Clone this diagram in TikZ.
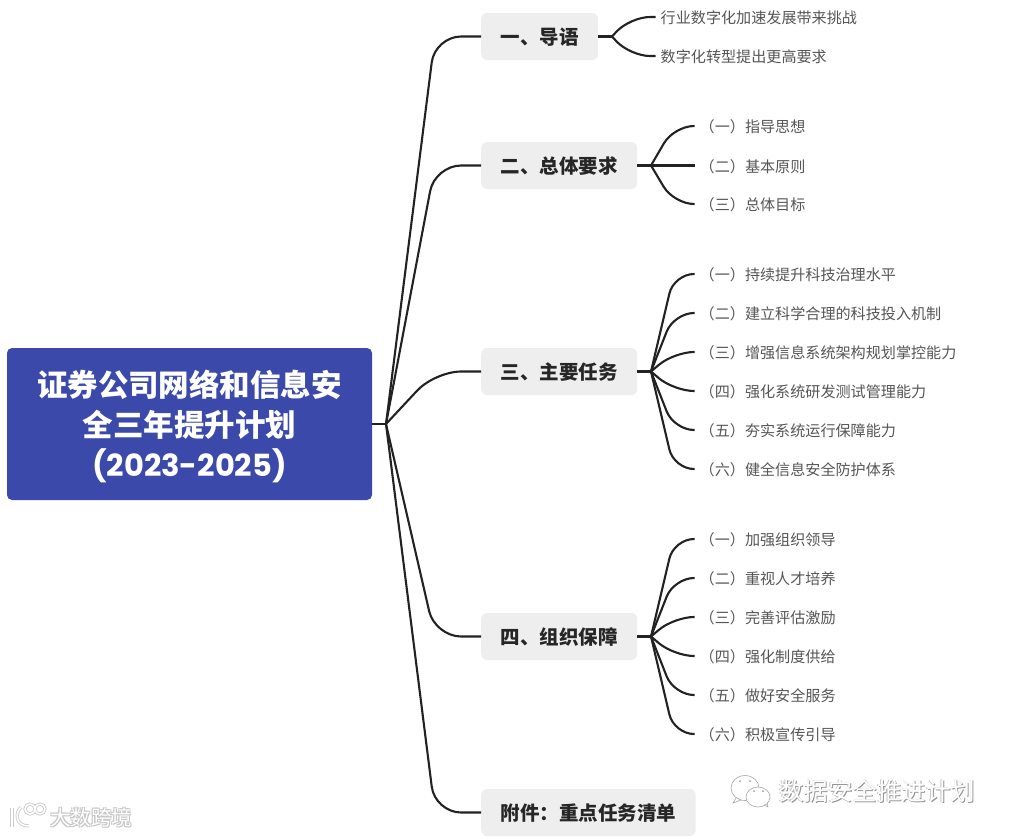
\documentclass[tikz,border=0pt]{standalone}
\usepackage{fontspec}
\usepackage{xcolor}
\setmainfont{Noto Sans CJK SC}
\newfontfamily\rootnum{Poppins}
\definecolor{rootblue}{RGB}{59,74,170}
\definecolor{topgray}{RGB}{238,238,238}
\definecolor{leafgray}{RGB}{85,85,85}
\definecolor{linkdark}{RGB}{34,34,34}
\usetikzlibrary{positioning,arrows.meta}

\begin{document}
\begin{tikzpicture}[x=1pt,y=-1pt,
  rootbox/.style={fill=rootblue,rounded corners=5pt,minimum width=365pt,minimum height=152pt,inner sep=0pt,align=center,text=white,font=\fontsize{30.5}{40}\selectfont\bfseries},
  topbox/.style={fill=topgray,rounded corners=6pt,anchor=west,minimum height=47pt,inner xsep=19.5pt,inner ysep=0pt,text height=19pt,text depth=3pt,text=black!85,font=\fontsize{19.5}{23}\selectfont\bfseries},
  leaf/.style={anchor=west,inner xsep=5pt,inner ysep=0pt,text height=15pt,text depth=2pt,text=leafgray,font=\fontsize{15.1}{18}\selectfont},
  link/.style={draw=linkdark,line width=2.1pt,rounded corners=26pt},
  sublink/.style={draw=linkdark,line width=2.1pt,rounded corners=20pt},
  wm/.style={inner sep=0pt,anchor=west}]
\useasboundingbox (0,0) rectangle (1010,836);
\node[rootbox] (root) at (189.5,424) {\rule{0pt}{32pt}证券公司网络和信息安\\全三年提升计划\\{\rootnum\fontsize{30.5}{40}\selectfont (2023-2025)}};
\node[topbox] (intro) at (481,36.5) {一、导语};
\node[topbox] (req) at (481,165.5) {二、总体要求};
\node[topbox] (task) at (481,371.5) {三、主要任务};
\node[topbox] (guard) at (481,636.5) {四、组织保障};
\node[topbox] (annex) at (481,812.5) {附件：重点任务清单};
% leaves
\node[leaf] (intro1) at (655.5,17) {行业数字化加速发展带来挑战};
\node[leaf] (intro2) at (655.5,56) {数字化转型提出更高要求};
\node[leaf] (req1) at (694.5,126) {（一）指导思想};
\node[leaf] (req2) at (694.5,165.5) {（二）基本原则};
\node[leaf] (req3) at (694.5,204) {（三）总体目标};
\node[leaf] (task1) at (694.5,274) {（一）持续提升科技治理水平};
\node[leaf] (task2) at (694.5,313) {（二）建立科学合理的科技投入机制};
\node[leaf] (task3) at (694.5,352) {（三）增强信息系统架构规划掌控能力};
\node[leaf] (task4) at (694.5,391) {（四）强化系统研发测试管理能力};
\node[leaf] (task5) at (694.5,430) {（五）夯实系统运行保障能力};
\node[leaf] (task6) at (694.5,469) {（六）健全信息安全防护体系};
\node[leaf] (guard1) at (694.5,539) {（一）加强组织领导};
\node[leaf] (guard2) at (694.5,578) {（二）重视人才培养};
\node[leaf] (guard3) at (694.5,617) {（三）完善评估激励};
\node[leaf] (guard4) at (694.5,656) {（四）强化制度供给};
\node[leaf] (guard5) at (694.5,695) {（五）做好安全服务};
\node[leaf] (guard6) at (694.5,734) {（六）积极宣传引导};
% forks and bends
\coordinate (jroot) at (386,424);
\coordinate (bendroot) at (435,0);
\coordinate (jintro) at (612,36.5);
\coordinate (bendintro) at (630,0);
\coordinate (jreq) at (651,165.5);
\coordinate (jtask) at (651,371.5);
\coordinate (jguard) at (651,636.5);
\coordinate (bendsub) at (674,0);
\draw[link] (root.east) -- (jroot);
\draw[link] (jroot) -- (bendroot |- intro.west) -- (intro.west);
\draw[link] (jroot) -- (bendroot |- req.west) -- (req.west);
\draw[link] (jroot) -- (bendroot |- task.west) -- (task.west);
\draw[link] (jroot) -- (bendroot |- guard.west) -- (guard.west);
\draw[link] (jroot) -- (bendroot |- annex.west) -- (annex.west);
\draw[sublink] (intro.east) -- (jintro);
\draw[sublink] (jintro) -- (bendintro |- intro1.west) -- (intro1.west);
\draw[sublink] (jintro) -- (bendintro |- intro2.west) -- (intro2.west);
\draw[sublink] (req.east) -- (jreq);
\draw[sublink] (jreq) -- (bendsub |- req1.west) -- (req1.west);
\draw[sublink] (jreq) -- (req2.west);
\draw[sublink] (jreq) -- (bendsub |- req3.west) -- (req3.west);
\draw[sublink] (task.east) -- (jtask);
\draw[sublink] (jtask) -- (bendsub |- task1.west) -- (task1.west);
\draw[sublink] (jtask) -- (bendsub |- task2.west) -- (task2.west);
\draw[sublink] (jtask) -- (bendsub |- task3.west) -- (task3.west);
\draw[sublink] (jtask) -- (bendsub |- task4.west) -- (task4.west);
\draw[sublink] (jtask) -- (bendsub |- task5.west) -- (task5.west);
\draw[sublink] (jtask) -- (bendsub |- task6.west) -- (task6.west);
\draw[sublink] (guard.east) -- (jguard);
\draw[sublink] (jguard) -- (bendsub |- guard1.west) -- (guard1.west);
\draw[sublink] (jguard) -- (bendsub |- guard2.west) -- (guard2.west);
\draw[sublink] (jguard) -- (bendsub |- guard3.west) -- (guard3.west);
\draw[sublink] (jguard) -- (bendsub |- guard4.west) -- (guard4.west);
\draw[sublink] (jguard) -- (bendsub |- guard5.west) -- (guard5.west);
\draw[sublink] (jguard) -- (bendsub |- guard6.west) -- (guard6.west);
% watermark, right
\foreach \dx/\dy/\c in {0.8/0.8/gray!85,-0.5/-0.5/gray!45}
  \node[wm,text=\c,font=\fontsize{24.5}{28}\selectfont] at (779+\dx,791.5+\dy) {数据安全推进计划};
\node[wm,text=white,font=\fontsize{24.5}{28}\selectfont] (wmright) at (779,791.5) {数据安全推进计划};
\draw[gray!70,fill=white,line width=0.6pt] (745,788) ellipse (14 and 12.5);
\draw[gray!70,line width=0.6pt] (736,798) -- (733,803) -- (741,800);
\draw[gray!70,fill=white,line width=0.6pt] (758,797) ellipse (12 and 10);
\draw[gray!70,line width=0.6pt] (764,805) -- (768,807) -- (767,803);
\fill[gray!80] (740,781) circle (1) (750,781) circle (1) (754,791) circle (1) (763,791) circle (1);
% watermark, left
\foreach \dx/\dy in {0.9/0.9,-0.9/0.9,0.9/-0.9,-0.9/-0.9}
  \node[wm,text=gray!45,font=\fontsize{20.5}{24}\selectfont] at (50+\dx,817.5+\dy) {大数跨境};
\node[wm,text=white,font=\fontsize{20.5}{24}\selectfont] (wmleft) at (50,817.5) {大数跨境};
\foreach \w/\c in {3.2pt/gray!40,1.5pt/white}{
  \draw[\c,line width=\w] (12,808) -- (12,827);
  \draw[\c,line width=\w] (21,807) .. controls (15,813) and (15,826) .. (29,826);
  \draw[\c,line width=\w] (30,809) circle (5);
  \draw[\c,line width=\w] (40,809) circle (5);
}
\end{tikzpicture}
\end{document}
